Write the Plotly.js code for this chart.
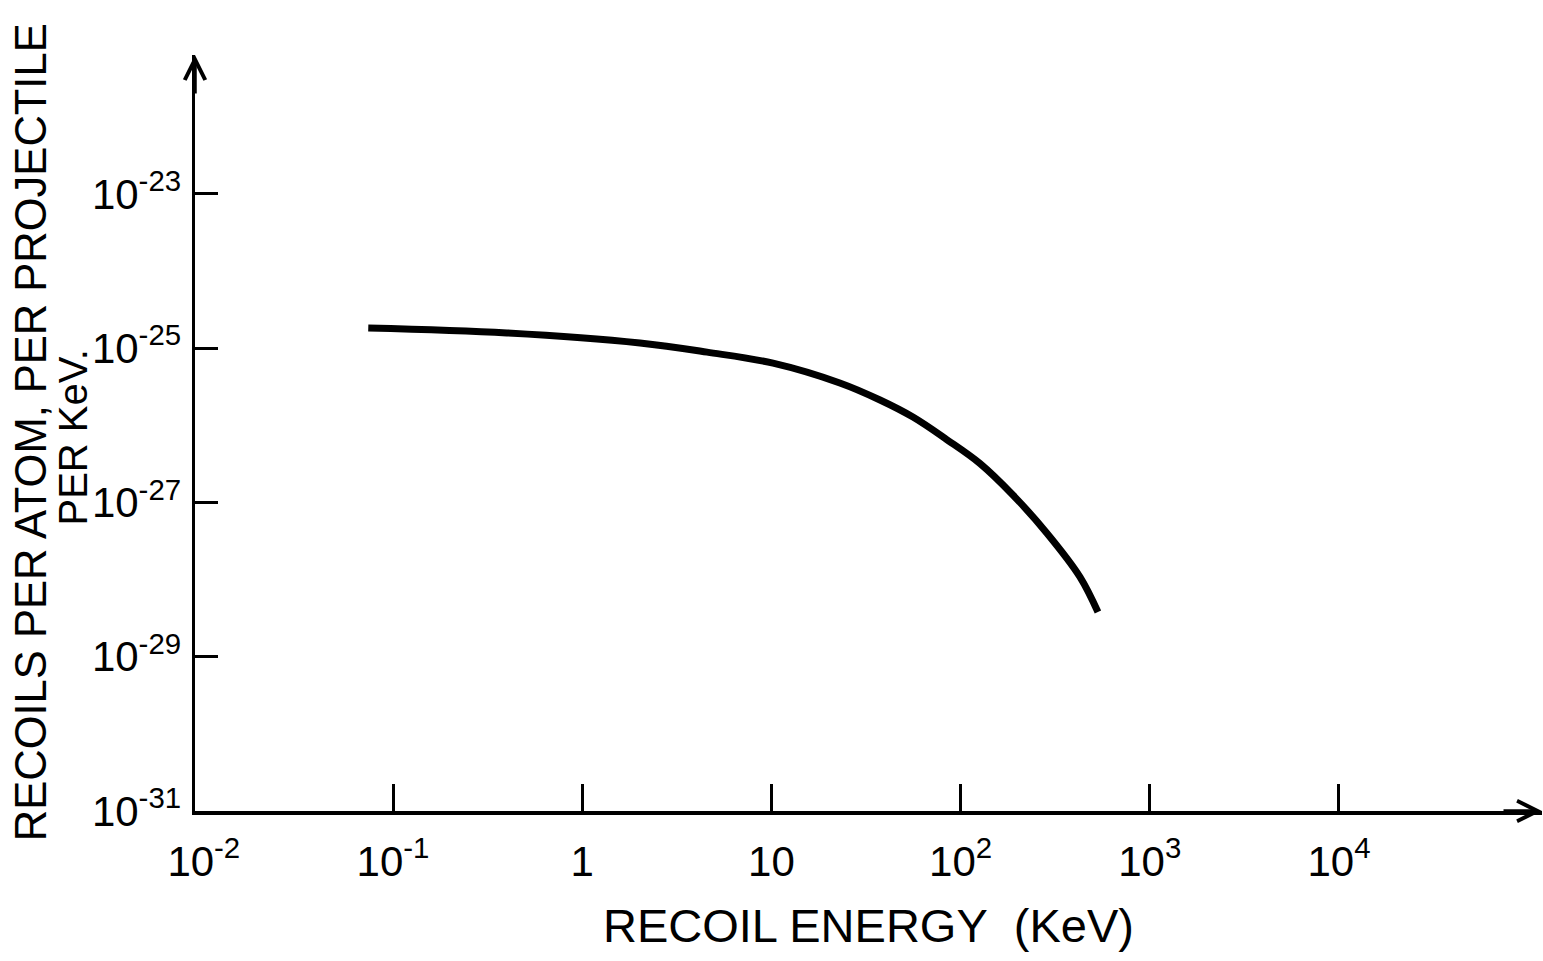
<!DOCTYPE html>
<html>
<head>
<meta charset="utf-8">
<script src="https://cdn.plot.ly/plotly-3.0.1.min.js"></script>
<style>html,body{margin:0;padding:0;background:#fff;}#chart{width:1543px;height:961px;}</style>
</head>
<body>
<div id="chart"></div>
<script>
// Data
const recoilEnergyKeV = [0.074, 0.40, 2.02, 4.57, 10.2, 23.0, 37.5, 56.0, 84.8, 126.6, 189, 286, 428, 532];
const recoilsPerAtom = [1.83e-25, 1.58e-25, 1.17e-25, 8.9e-26, 6.4e-26, 3.54e-26, 2.13e-26, 1.28e-26, 6.5e-27, 3.2e-27, 1.25e-27, 4.0e-28, 1.08e-28, 3.8e-29];

const xTickVals = [0.01, 0.1, 1, 10, 100, 1000, 10000];
const xTickText = ['10<sup>-2</sup>', '10<sup>-1</sup>', '1', '10', '10<sup>2</sup>', '10<sup>3</sup>', '10<sup>4</sup>'];
const xTickMarkVals = [0.1, 1, 10, 100, 1000, 10000];
const yTickVals = [1e-31, 1e-29, 1e-27, 1e-25, 1e-23];
const yTickText = ['10<sup>-31</sup>', '10<sup>-29</sup>', '10<sup>-27</sup>', '10<sup>-25</sup>', '10<sup>-23</sup>'];

const xTitle = 'RECOIL ENERGY\u00a0\u00a0(KeV)';
const yTitleLine1 = 'RECOILS PER ATOM, PER PROJECTILE';
const yTitleLine2 = 'PER KeV.';

const FONT = 'Liberation Sans, Arial, sans-serif';

const trace = {
  x: recoilEnergyKeV,
  y: recoilsPerAtom,
  type: 'scatter',
  mode: 'lines',
  line: {color: '#000', width: 7, shape: 'spline', smoothing: 1},
  hoverinfo: 'x+y',
  showlegend: false
};

const layout = {
  width: 1543,
  height: 961,
  margin: {l: 195, r: 1, t: 55, b: 150},
  paper_bgcolor: '#fff',
  plot_bgcolor: '#fff',
  font: {family: FONT, color: '#000', size: 40},
  showlegend: false,
  xaxis: {
    type: 'log',
    range: [-2.0465, 5.073],
    showgrid: false,
    zeroline: false,
    showline: true,
    linecolor: '#000',
    linewidth: 3.5,
    tickmode: 'array',
    tickvals: xTickVals,
    ticktext: xTickText,
    ticks: '',
    ticklabelstandoff: 11,
    tickfont: {family: FONT, size: 42, color: '#000'},
    minor: {
      tickmode: 'array',
      tickvals: xTickMarkVals,
      ticks: 'inside',
      ticklen: 27,
      tickwidth: 3,
      tickcolor: '#000',
      showgrid: false
    },
    title: {text: xTitle, font: {family: FONT, size: 47, color: '#000'}, standoff: 26},
    automargin: false,
    fixedrange: true
  },
  yaxis: {
    type: 'log',
    range: [-31, -21.198],
    showgrid: false,
    zeroline: false,
    showline: true,
    linecolor: '#000',
    linewidth: 3.5,
    tickmode: 'array',
    tickvals: yTickVals,
    ticktext: yTickText,
    ticks: 'inside',
    ticklen: 23,
    tickwidth: 3,
    tickcolor: '#000',
    ticklabelstandoff: 2,
    tickfont: {family: FONT, size: 42, color: '#000'},
    automargin: false,
    fixedrange: true
  },
  annotations: [
    {
      xref: 'paper', yref: 'paper', x: -0.1218, y: 0.501,
      xanchor: 'center', yanchor: 'middle',
      text: yTitleLine1, textangle: -90, showarrow: false,
      font: {family: FONT, size: 43.5, color: '#000'}
    },
    {
      xref: 'paper', yref: 'paper', x: -0.0906, y: 0.494,
      xanchor: 'center', yanchor: 'middle',
      text: yTitleLine2, textangle: -90, showarrow: false,
      font: {family: FONT, size: 40, color: '#000'}
    },
    {
      xref: 'paper', yref: 'paper', x: 1, y: 0, text: '',
      showarrow: true, ax: -40, ay: 0, arrowhead: 5, arrowsize: 1.15,
      arrowwidth: 3.5, arrowcolor: '#000', standoff: 0
    },
    {
      xref: 'paper', yref: 'paper', x: 0, y: 1, text: '',
      showarrow: true, ax: 0, ay: 40, arrowhead: 5, arrowsize: 1.15,
      arrowwidth: 3.5, arrowcolor: '#000', standoff: 0
    }
  ]
};

Plotly.newPlot('chart', [trace], layout, {displayModeBar: false, staticPlot: true});
</script>
</body>
</html>
